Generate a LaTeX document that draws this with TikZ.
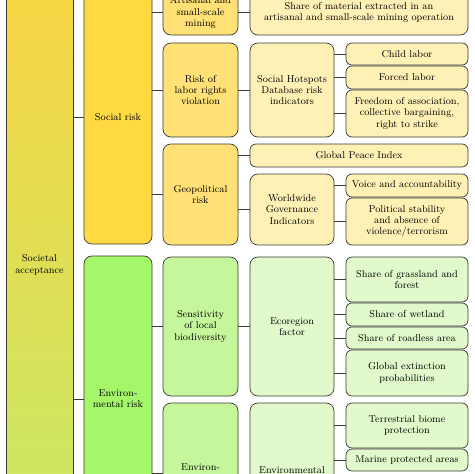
\documentclass[tikz,border=0pt]{standalone}
\usetikzlibrary{positioning}
\definecolor{lineGray}{HTML}{3A3A32}
\definecolor{saTop}{HTML}{F7D544}
\definecolor{saBot}{HTML}{C8E866}
\definecolor{socFill}{HTML}{FFDA42}
\definecolor{envFill}{HTML}{A5F76A}
\definecolor{socMid}{HTML}{FFE176}
\definecolor{envMid}{HTML}{C6F69C}
\definecolor{socLeaf}{HTML}{FFF1B6}
\definecolor{envLeaf}{HTML}{E2FACB}
\begin{document}
\begin{tikzpicture}[
        x=0.03cm, y=-0.03cm,
        font=\fontsize{8.5}{9.5}\selectfont,
        box/.style={rectangle, draw=lineGray, line width=0.6pt, align=center, inner sep=1pt},
        rbox/.style={box, rounded corners=0.24cm},
        sbox/.style={box, rounded corners=0.18cm},
        link/.style={draw=lineGray, line width=0.6pt}
    ]
        \useasboundingbox (0,0) rectangle (474,474);
        \clip (0,0) rectangle (474,474);

        \node[box, top color=saTop, bottom color=saBot, minimum width=2.01cm, minimum height=16.5cm] (soc_accept) at (39.5,265) {Societal\\acceptance};

        \node[rbox, fill=socFill, minimum width=2.04cm, minimum height=7.62cm] (soc_risk) at (118,117) {Social risk};
        \node[rbox, fill=envFill, minimum width=2.04cm, minimum height=8.58cm] (env_risk) at (118,399) {Environ-\\mental risk};

        \node[rbox, fill=socMid, minimum width=2.25cm, minimum height=1.35cm] (asm) at (200.5,12.5) {Artisanal and\\small-scale\\mining};
        \node[rbox, fill=socMid, minimum width=2.25cm, minimum height=2.82cm] (labor) at (200.5,90) {Risk of\\labor rights\\violation};
        \node[rbox, fill=socMid, minimum width=2.25cm, minimum height=3.03cm] (geo) at (200.5,194.5) {Geopolitical\\risk};
        \node[rbox, fill=envMid, minimum width=2.25cm, minimum height=4.17cm] (biodiv) at (200.5,326.5) {Sensitivity\\of local\\biodiversity};
        \node[rbox, fill=envMid, minimum width=2.25cm, minimum height=4.2cm] (env_pol) at (200.5,473) {Environ-\\mental};

        \node[rbox, fill=socLeaf, minimum width=6.54cm, minimum height=1.35cm] (asm_share) at (359,12.5) {Share of material extracted in an\\artisanal and small-scale mining operation};
        \node[rbox, fill=socLeaf, minimum width=2.52cm, minimum height=2.82cm] (shdb) at (292,90) {Social Hotspots\\Database risk\\indicators};
        \node[sbox, fill=socLeaf, minimum width=6.54cm, minimum height=0.69cm] (gpi) at (359,155.5) {Global Peace Index};
        \node[rbox, fill=socLeaf, minimum width=2.52cm, minimum height=2.13cm] (wgi) at (292,209.5) {Worldwide\\Governance\\Indicators};
        \node[rbox, fill=envLeaf, minimum width=2.52cm, minimum height=4.17cm] (eco) at (292,326.5) {Ecoregion\\factor};
        \node[rbox, fill=envLeaf, minimum width=2.52cm, minimum height=4.68cm] (epi) at (292,481) {Environmental\\Performance\\Index};

        \node[sbox, fill=socLeaf, minimum width=3.66cm, minimum height=0.66cm] (child) at (407,54) {Child labor};
        \node[sbox, fill=socLeaf, minimum width=3.66cm, minimum height=0.69cm] (forced) at (407,77.5) {Forced labor};
        \node[sbox, fill=socLeaf, minimum width=3.66cm, minimum height=1.41cm] (freedom) at (407,113.5) {Freedom of association,\\collective bargaining,\\right to strike};
        \node[sbox, fill=socLeaf, minimum width=3.66cm, minimum height=0.69cm] (voice) at (407,185.5) {Voice and accountability};
        \node[sbox, fill=socLeaf, minimum width=3.66cm, minimum height=1.41cm] (polstab) at (407,221.5) {Political stability\\and absence of\\violence/terrorism};
        \node[sbox, fill=envLeaf, minimum width=3.66cm, minimum height=1.35cm] (grass) at (407,279.5) {Share of grassland and\\forest};
        \node[sbox, fill=envLeaf, minimum width=3.66cm, minimum height=0.69cm] (wetland) at (407,314.5) {Share of wetland};
        \node[sbox, fill=envLeaf, minimum width=3.66cm, minimum height=0.66cm] (roadless) at (407,338) {Share of roadless area};
        \node[sbox, fill=envLeaf, minimum width=3.66cm, minimum height=1.38cm] (extinct) at (407,373) {Global extinction\\probabilities};
        \node[sbox, fill=envLeaf, minimum width=3.66cm, minimum height=1.35cm] (terr) at (407,425.5) {Terrestrial biome\\protection};
        \node[sbox, fill=envLeaf, minimum width=3.66cm, minimum height=0.66cm] (marine) at (407,460) {Marine protected areas};

        % connectors
        \foreach \src/\dst in {soc_accept/soc_risk, soc_accept/env_risk,
                soc_risk/asm, soc_risk/labor, soc_risk/geo,
                env_risk/biodiv, env_risk/env_pol,
                asm/asm_share, labor/shdb, geo/gpi, geo/wgi,
                biodiv/eco, env_pol/epi,
                shdb/child, shdb/forced, shdb/freedom,
                wgi/voice, wgi/polstab,
                eco/grass, eco/wetland, eco/roadless, eco/extinct,
                epi/terr, epi/marine}
            \draw[link] (\src.east |- \dst) -- (\dst.west);
    \end{tikzpicture}
\end{document}
